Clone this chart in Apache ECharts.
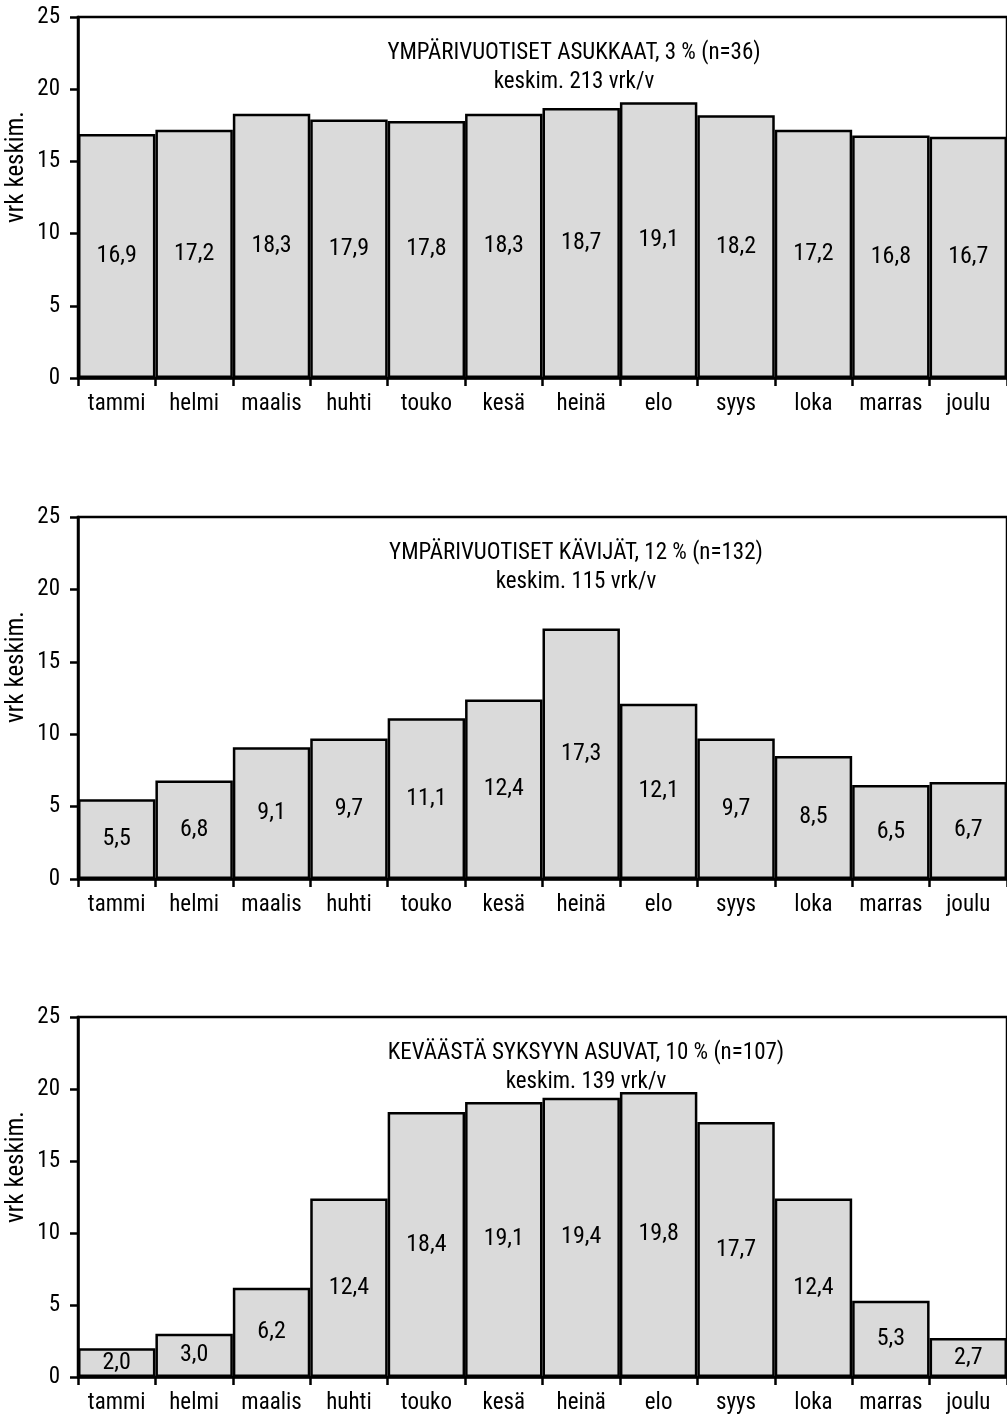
<!DOCTYPE html>
<html>
<head>
<meta charset="utf-8">
<script src="https://cdn.jsdelivr.net/npm/echarts@6/dist/echarts.min.js"></script>
<style>
  html, body { margin: 0; padding: 0; background: #fff; }
  #chart { width: 1007px; height: 1421px; }
</style>
</head>
<body>
<div id="chart"></div>
<script>
// Months on the category axis
const months = ['tammi', 'helmi', 'maalis', 'huhti', 'touko', 'kesä', 'heinä', 'elo', 'syys', 'loka', 'marras', 'joulu'];

// Average days per month, by group
const asukkaat = [16.9, 17.2, 18.3, 17.9, 17.8, 18.3, 18.7, 19.1, 18.2, 17.2, 16.8, 16.7];
const kavijat = [5.5, 6.8, 9.1, 9.7, 11.1, 12.4, 17.3, 12.1, 9.7, 8.5, 6.5, 6.7];
const kevaastaSyksyyn = [2.0, 3.0, 6.2, 12.4, 18.4, 19.1, 19.4, 19.8, 17.7, 12.4, 5.3, 2.7];

// Panel headings
const titles = [
  'YMPÄRIVUOTISET ASUKKAAT, 3 % (n=36)',
  'YMPÄRIVUOTISET KÄVIJÄT, 12 % (n=132)',
  'KEVÄÄSTÄ SYKSYYN ASUVAT, 10 % (n=107)'
];
const subtitles = ['keskim. 213 vrk/v', 'keskim. 115 vrk/v', 'keskim. 139 vrk/v'];
const yTitle = 'vrk keskim.';

const FONT = '"Roboto Condensed", "Liberation Sans Narrow", sans-serif';
const panels = [asukkaat, kavijat, kevaastaSyksyyn];
const tops = [17, 517, 1017];
const heights = [361, 362, 360];
const titleX = [574, 576, 586];

const grid = [], xAxis = [], yAxis = [], series = [], graphic = [];

panels.forEach((data, i) => {
  grid.push({
    left: 78, top: tops[i], width: 936, height: heights[i],
    show: true, borderColor: '#000', borderWidth: 2.5, backgroundColor: 'transparent'
  });
  xAxis.push({
    type: 'category', gridIndex: i, data: months,
    axisLine: { lineStyle: { color: '#000', width: 2.5 } },
    axisTick: { show: true, interval: 0, length: 8, lineStyle: { color: '#000', width: 2.5 } },
    axisLabel: { interval: 0, color: '#000', fontSize: 23, fontFamily: FONT, margin: 15 },
    splitLine: { show: false }
  });
  yAxis.push({
    type: 'value', gridIndex: i, min: 0, max: 25, interval: 5,
    axisLine: { show: true, lineStyle: { color: '#000', width: 2.5 } },
    axisTick: { show: true, length: 8, lineStyle: { color: '#000', width: 2.5 } },
    axisLabel: { color: '#000', fontSize: 23, fontFamily: FONT, margin: 18 },
    splitLine: { show: false }
  });
  series.push({
    type: 'bar', xAxisIndex: i, yAxisIndex: i, data: data,
    barCategoryGap: '0%',
    itemStyle: { color: '#dadada', borderColor: '#000', borderWidth: 2.5 },
    label: {
      show: true, position: 'inside', color: '#000', fontSize: 24, fontFamily: FONT,
      formatter: p => p.value.toFixed(1).replace('.', ',')
    },
    silent: true, animation: false
  });
  // Heading and average-days line, centred over the panel
  graphic.push({
    type: 'text', x: titleX[i], y: tops[i] + 36,
    style: { text: titles[i], fill: '#000', font: '23px ' + FONT, align: 'center', verticalAlign: 'middle' }
  });
  graphic.push({
    type: 'text', x: titleX[i], y: tops[i] + 65,
    style: { text: subtitles[i], fill: '#000', font: '23px ' + FONT, align: 'center', verticalAlign: 'middle' }
  });
  // Rotated y-axis title
  graphic.push({
    type: 'text', x: 17, y: tops[i] + 150, rotation: Math.PI / 2,
    style: { text: yTitle, fill: '#000', font: '25px ' + FONT, align: 'center', verticalAlign: 'middle' }
  });
});

const chart = echarts.init(document.getElementById('chart'), null, { renderer: 'canvas' });
chart.setOption({ animation: false, grid, xAxis, yAxis, series, graphic });
</script>
</body>
</html>
